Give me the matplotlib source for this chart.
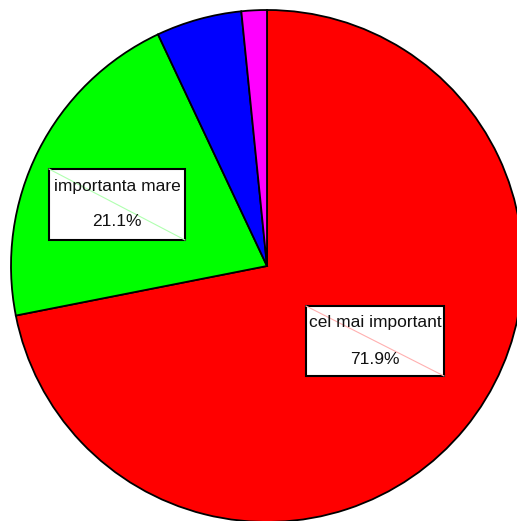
import matplotlib
matplotlib.use("Agg")
import matplotlib.pyplot as plt
from matplotlib.patches import Rectangle

categories = ["cel mai important", "importanta mare", "importanta medie", "putin important"]
values = [71.9, 21.1, 5.4, 1.6]
colors = ["#ff0000", "#00ff00", "#0000ff", "#ff00ff"]
shown_labels = ["cel mai important", "importanta mare"]
shown_pct = ["71.9%", "21.1%"]

W, H = 517, 521
fig = plt.figure(figsize=(W / 100, H / 100), dpi=100)
ax = fig.add_axes([0, 0, 1, 1])

cx, cy, r = 267, H - 266, 256
ax.pie(values, colors=colors, startangle=90, counterclock=False,
       center=(cx, cy), radius=r, frame=True,
       wedgeprops=dict(edgecolor="black", linewidth=1.3))
ax.set_xlim(0, W)
ax.set_ylim(0, H)
ax.set_aspect("equal")
ax.axis("off")

# label boxes (pixel coords: left, top, right, bottom)
boxes = [(306, 306, 444, 376), (49, 169, 185, 240)]
diag_colors = ["#ffb0b0", "#b0ffb0"]
for (l, t, rr, b), lab, pct, dc in zip(boxes, shown_labels, shown_pct, diag_colors):
    ax.add_patch(Rectangle((l, H - b), rr - l, b - t, facecolor="white",
                           edgecolor="black", linewidth=1.5, zorder=5))
    ax.plot([l, rr], [H - t, H - b], color=dc, linewidth=0.8, zorder=6)
    xc = (l + rr) / 2
    ax.text(xc, H - (t + 17), lab, ha="center", va="center", fontsize=12.5,
            family="Liberation Sans", color="#111111", zorder=7)
    ax.text(xc, H - (t + 53), pct, ha="center", va="center", fontsize=12.5,
            family="Liberation Sans", color="#111111", zorder=7)

fig.savefig("out.png", dpi=100)
